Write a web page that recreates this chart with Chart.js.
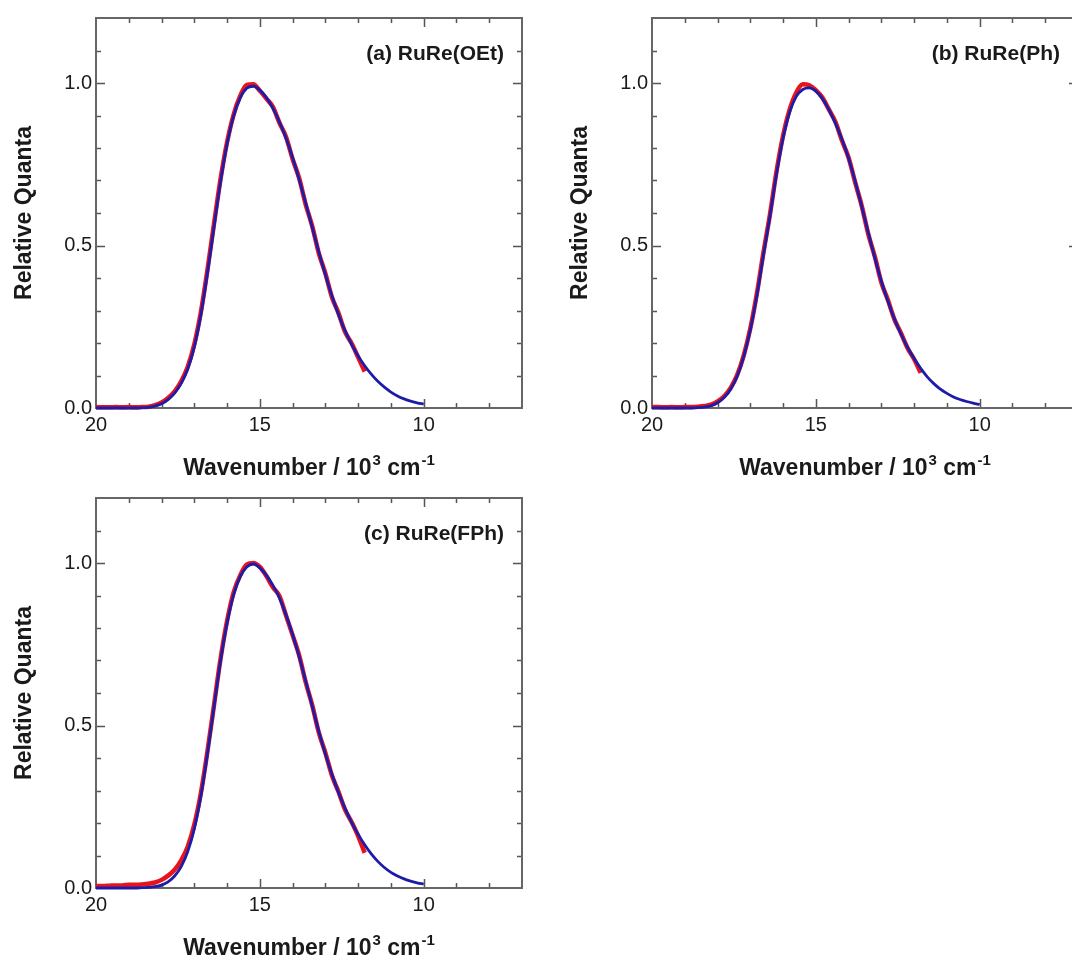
<!DOCTYPE html>
<html>
<head>
<meta charset="utf-8">
<title>Emission spectra</title>
<script src="https://cdn.jsdelivr.net/npm/chart.js@4.4.1/dist/chart.umd.min.js"></script>
<style>
  html, body { margin: 0; padding: 0; background: #fff; overflow: hidden; width: 1072px; height: 958px; }
  canvas { position: absolute; }
  #panelA { left: 0; top: 0; }
  #panelB { left: 556px; top: 0; }
  #panelC { left: 0; top: 480px; }
</style>
</head>
<body>
<canvas id="panelA" width="540" height="480"></canvas>
<canvas id="panelB" width="540" height="480"></canvas>
<canvas id="panelC" width="540" height="480"></canvas>

<script>
// wavenumber grid, 10^3 cm-1 (fit runs to 10, measured spectrum stops at 11.8)
const wavenumber = [
  20.0, 19.8, 19.6, 19.4, 19.2, 19.0, 18.8, 18.6, 18.4, 18.2,
  18.0, 17.8, 17.6, 17.4, 17.2, 17.0, 16.8, 16.6, 16.4, 16.2,
  16.0, 15.8, 15.6, 15.4, 15.2, 15.0, 14.8, 14.6, 14.4, 14.2,
  14.0, 13.8, 13.6, 13.4, 13.2, 13.0, 12.8, 12.6, 12.4, 12.2,
  12.0, 11.8, 11.6, 11.4, 11.2, 11.0, 10.8, 10.6, 10.4, 10.2, 10.0
];

const panelLabels = ["(a) RuRe(OEt)", "(b) RuRe(Ph)", "(c) RuRe(FPh)"];
const yTitle = "Relative Quanta";
const xTickLabels = [20, 15, 10];
const yTickLabels = [0.0, 0.5, 1.0];

// (a) RuRe(OEt)
const expA = [
  0.003, 0.002, 0.002, 0.003, 0.002, 0.003, 0.002, 0.003, 0.004, 0.009,
  0.017, 0.031, 0.051, 0.082, 0.127, 0.196, 0.295, 0.424, 0.566, 0.704,
  0.818, 0.903, 0.960, 0.994, 0.996, 0.976, 0.952, 0.926, 0.877, 0.834,
  0.766, 0.707, 0.626, 0.559, 0.476, 0.414, 0.341, 0.292, 0.234, 0.199,
  0.156, 0.112
];
const fitA = [
  0.000, 0.000, 0.000, 0.000, 0.000, 0.000, 0.000, 0.001, 0.002, 0.006,
  0.013, 0.026, 0.046, 0.076, 0.120, 0.188, 0.286, 0.414, 0.556, 0.695,
  0.812, 0.898, 0.954, 0.984, 0.990, 0.978, 0.955, 0.922, 0.880, 0.830,
  0.770, 0.703, 0.630, 0.555, 0.480, 0.410, 0.345, 0.288, 0.238, 0.196,
  0.160, 0.130, 0.104, 0.082, 0.064, 0.049, 0.037, 0.028, 0.021, 0.016, 0.012
];

// (b) RuRe(Ph)
const expB = [
  0.003, 0.003, 0.002, 0.003, 0.002, 0.003, 0.003, 0.004, 0.006, 0.010,
  0.020, 0.036, 0.062, 0.102, 0.162, 0.245, 0.352, 0.478, 0.596, 0.728,
  0.838, 0.918, 0.970, 0.996, 0.993, 0.978, 0.955, 0.918, 0.880, 0.822,
  0.770, 0.694, 0.622, 0.535, 0.466, 0.386, 0.332, 0.272, 0.230, 0.184,
  0.150, 0.108
];
const fitB = [
  0.000, 0.000, 0.000, 0.000, 0.000, 0.000, 0.000, 0.001, 0.003, 0.007,
  0.016, 0.032, 0.058, 0.098, 0.158, 0.240, 0.345, 0.470, 0.590, 0.720,
  0.830, 0.910, 0.958, 0.980, 0.985, 0.975, 0.952, 0.918, 0.875, 0.826,
  0.768, 0.698, 0.620, 0.540, 0.462, 0.390, 0.328, 0.274, 0.227, 0.187,
  0.152, 0.122, 0.096, 0.075, 0.058, 0.045, 0.034, 0.026, 0.020, 0.015, 0.011
];

// (c) RuRe(FPh)
const expC = [
  0.006, 0.006, 0.007, 0.008, 0.008, 0.010, 0.010, 0.011, 0.013, 0.017,
  0.025, 0.038, 0.056, 0.085, 0.128, 0.195, 0.292, 0.420, 0.562, 0.705,
  0.822, 0.910, 0.962, 0.995, 1.000, 0.988, 0.960, 0.925, 0.898, 0.838,
  0.778, 0.716, 0.633, 0.562, 0.478, 0.416, 0.346, 0.296, 0.241, 0.203,
  0.160, 0.108
];
const fitC = [
  0.000, 0.000, 0.000, 0.000, 0.000, 0.000, 0.000, 0.001, 0.002, 0.004,
  0.009, 0.019, 0.037, 0.066, 0.112, 0.182, 0.282, 0.412, 0.556, 0.698,
  0.815, 0.902, 0.958, 0.988, 0.997, 0.985, 0.962, 0.931, 0.892, 0.840,
  0.780, 0.712, 0.637, 0.559, 0.482, 0.412, 0.350, 0.294, 0.245, 0.202,
  0.165, 0.133, 0.105, 0.082, 0.063, 0.048, 0.037, 0.028, 0.021, 0.016, 0.012
];

const FONT = '"Liberation Sans", Arial, Helvetica, sans-serif';
Chart.defaults.font.family = FONT;
Chart.defaults.color = "#1a1a1a";

const toPoints = (ys) => ys.map((y, i) => ({ x: wavenumber[i], y: y }));

// frame with inward ticks on all four sides, panel label, x title with superscripts
const framePlugin = {
  id: "frame",
  beforeDatasetsDraw(chart) {
    const { ctx, chartArea: a, scales } = chart;
    ctx.save();
    ctx.strokeStyle = "#555";
    ctx.lineWidth = 1.5;
    scales.x.ticks.forEach((t) => {
      const v = t.value;
      if (v <= scales.x.min || v >= scales.x.max) return;
      const px = Math.round(scales.x.getPixelForValue(v)) + 0.5;
      const len = v % 5 === 0 ? 9 : 5;
      ctx.beginPath();
      ctx.moveTo(px, a.bottom); ctx.lineTo(px, a.bottom - len);
      ctx.moveTo(px, a.top); ctx.lineTo(px, a.top + len);
      ctx.stroke();
    });
    scales.y.ticks.forEach((t) => {
      const v = t.value;
      if (v <= scales.y.min + 1e-9 || v >= scales.y.max - 1e-9) return;
      const py = Math.round(scales.y.getPixelForValue(v)) + 0.5;
      const len = Math.round(v * 10) % 5 === 0 ? 9 : 5;
      ctx.beginPath();
      ctx.moveTo(a.left, py); ctx.lineTo(a.left + len, py);
      ctx.moveTo(a.right, py); ctx.lineTo(a.right - len, py);
      ctx.stroke();
    });
    ctx.strokeStyle = "#666";
    ctx.lineWidth = 2;
    ctx.strokeRect(a.left, a.top, a.right - a.left, a.bottom - a.top);
    ctx.restore();
  },
  afterDraw(chart, args, opts) {
    const { ctx, chartArea: a } = chart;
    ctx.save();
    ctx.fillStyle = "#1a1a1a";
    // panel label
    ctx.font = "bold 21px " + FONT;
    ctx.textAlign = "right";
    ctx.textBaseline = "middle";
    ctx.fillText(opts.label, a.right - 18, a.top + 36);
    // x axis title: Wavenumber / 10^3 cm^-1
    const big = "bold 23px " + FONT;
    const small = "bold 15px " + FONT;
    const parts = [
      ["Wavenumber / 10", big, 0],
      ["3", small, -10],
      [" cm", big, 0],
      ["-1", small, -10]
    ];
    let w = 0;
    parts.forEach((p) => { ctx.font = p[1]; w += ctx.measureText(p[0]).width + (p[2] ? 1 : 0); });
    let x = (a.left + a.right) / 2 - w / 2;
    const base = a.bottom + 67;
    ctx.textAlign = "left";
    ctx.textBaseline = "alphabetic";
    parts.forEach((p) => {
      ctx.font = p[1];
      if (p[2]) x += 1;
      ctx.fillText(p[0], x, base + p[2]);
      x += ctx.measureText(p[0]).width;
    });
    ctx.restore();
  }
};

function makePanel(id, label, exp, fit) {
  const ctx = document.getElementById(id).getContext("2d");
  return new Chart(ctx, {
    type: "line",
    data: {
      datasets: [
        {
          label: "measured",
          data: toPoints(exp),
          borderColor: "#e8141c",
          borderWidth: 4.5,
          pointRadius: 0,
          cubicInterpolationMode: "monotone",
          clip: false,
          order: 2
        },
        {
          label: "fit",
          data: toPoints(fit),
          borderColor: "#1c1cab",
          borderWidth: 2.8,
          pointRadius: 0,
          cubicInterpolationMode: "monotone",
          clip: false,
          order: 1
        }
      ]
    },
    options: {
      responsive: false,
      animation: false,
      layout: { padding: { left: 0, top: 18, right: 18, bottom: 0 } },
      plugins: {
        legend: { display: false },
        tooltip: { enabled: false },
        frame: { label: label }
      },
      scales: {
        x: {
          type: "linear",
          reverse: true,
          min: 7,
          max: 20,
          grid: { display: false, drawTicks: false },
          border: { display: false },
          ticks: {
            stepSize: 1,
            autoSkip: false,
            maxRotation: 0,
            padding: 5,
            font: { size: 20 },
            callback: (v) => (xTickLabels.includes(v) ? String(v) : "")
          },
          afterFit: (s) => { s.height = 72; }
        },
        y: {
          type: "linear",
          min: 0,
          max: 1.2,
          grid: { display: false, drawTicks: false },
          border: { display: false },
          ticks: {
            stepSize: 0.1,
            autoSkip: false,
            padding: 4,
            font: { size: 20 },
            callback: (v) => {
              const hit = yTickLabels.find((t) => Math.abs(t - v) < 1e-6);
              return hit === undefined ? "" : hit.toFixed(1);
            }
          },
          title: {
            display: true,
            text: yTitle,
            font: { size: 23, weight: "bold" },
            padding: { top: 11, bottom: 0 }
          },
          afterFit: (s) => { s.width = 96; }
        }
      }
    },
    plugins: [framePlugin]
  });
}

makePanel("panelA", panelLabels[0], expA, fitA);
makePanel("panelB", panelLabels[1], expB, fitB);
makePanel("panelC", panelLabels[2], expC, fitC);
</script>
</body>
</html>
